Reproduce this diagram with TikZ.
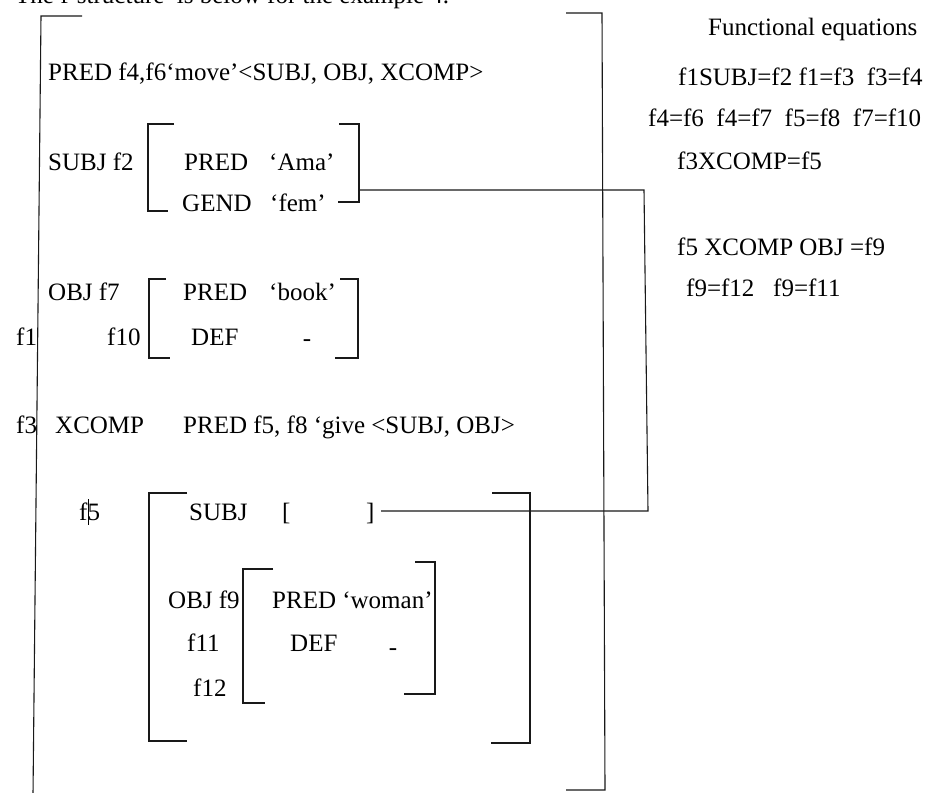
\documentclass[tikz,border=0pt]{standalone}
\usepackage{fontspec}
\setmainfont{Liberation Serif}
\begin{document}
\begin{tikzpicture}[x=1pt,y=-1pt,
  txt/.style={anchor=base west,inner sep=0pt,font=\fontsize{25}{30}\selectfont},
  ctxt/.style={anchor=base,inner sep=0pt,font=\fontsize{25}{30}\selectfont},
  ln/.style={line width=1.1pt,draw=black!90},
  conn/.style={line width=1.1pt,draw=black!90}]
\useasboundingbox (0,0) rectangle (928,792);
% caption (cut by the top edge)
\node[txt] (cap) at (15,4) {The f-structure \ is below for the example 4.};
% outer bracket
\draw[ln] (82,16) -- (41,16) -- (33,795);
\draw[ln] (566,13) -- (602,13) -- (605,790) -- (566,790);
% main rows
\node[txt] (pred1) at (48,81) {PRED f4,f6‘move’<SUBJ, OBJ, XCOMP>};
\node[txt] (subj) at (48,170) {SUBJ f2};
\node[txt] (predA) at (184,170) {PRED};
\node[txt] (ama) at (269,170) {‘Ama’};
\node[txt] (gend) at (182,211) {GEND};
\node[txt] (fem) at (270,211) {‘fem’};
% f2 bracket
\draw[ln] (174,124) -- (148,124) -- (148,211) -- (168,211);
\draw[ln] (339,124) -- (359,124) -- (359,202) -- (338,202);
% OBJ f7
\node[txt] (obj7) at (48,300) {OBJ f7};
\node[txt] (predB) at (183,300) {PRED};
\node[txt] (book) at (269,300) {‘book’};
\node[txt] (f1) at (16,345) {f1};
\node[txt] (f10) at (107,345) {f10};
\node[txt] (def1) at (191,345) {DEF};
\node[ctxt] (dash1) at (307,346) {-};
\draw[ln] (166,279) -- (149,279) -- (149,358) -- (170,358);
\draw[ln] (340,279) -- (358,279) -- (358,358) -- (335,358);
% XCOMP
\node[txt] (f3) at (16,433) {f3};
\node[txt] (xcomp) at (55,433) {XCOMP};
\node[txt] (predC) at (183,433) {PRED f5, f8 ‘give <SUBJ, OBJ>};
% f5 structure
\node[txt] (f5) at (79,520) {f5};
\draw[line width=0.6pt] (88,499) -- (88,525);
\node[txt] (subj5) at (189,520) {SUBJ};
\node[txt] (lb) at (282,520) {[};
\node[txt] (rb) at (366,520) {]};
\draw[ln] (187,493) -- (149,493) -- (149,741) -- (187,741);
\draw[ln] (492,493) -- (530,493) -- (530,743) -- (491,743);
\node[txt] (obj9) at (168,608) {OBJ f9};
\node[txt] (predD) at (272,608) {PRED ‘woman’};
\node[txt] (f11) at (187,651) {f11};
\node[txt] (def2) at (290,651) {DEF};
\node[ctxt] (dash2) at (393,655) {-};
\node[txt] (f12) at (193,696) {f12};
\draw[ln] (273,569) -- (243,569) -- (243,703) -- (265,703);
\draw[ln] (415,562) -- (435,562) -- (435,694) -- (404,694);
% connector
\coordinate (cs) at (359,190);
\coordinate (c1) at (644,190);
\coordinate (c2) at (648,511);
\coordinate (ce) at (381,511);
\draw[conn] (cs) -- (c1) -- (c2) -- (ce);
% functional equations
\node[txt] (fe) at (708,36) {Functional equations};
\node[txt] (e1) at (678,85) {f1SUBJ=f2 f1=f3~ f3=f4};
\node[txt] (e2) at (648,126) {f4=f6~ f4=f7~ f5=f8~ f7=f10};
\node[txt] (e3) at (677,169) {f3XCOMP=f5};
\node[txt] (e4) at (677,255) {f5 XCOMP OBJ =f9};
\node[txt] (e5) at (686,296) {f9=f12~~ f9=f11};
\end{tikzpicture}
\end{document}
